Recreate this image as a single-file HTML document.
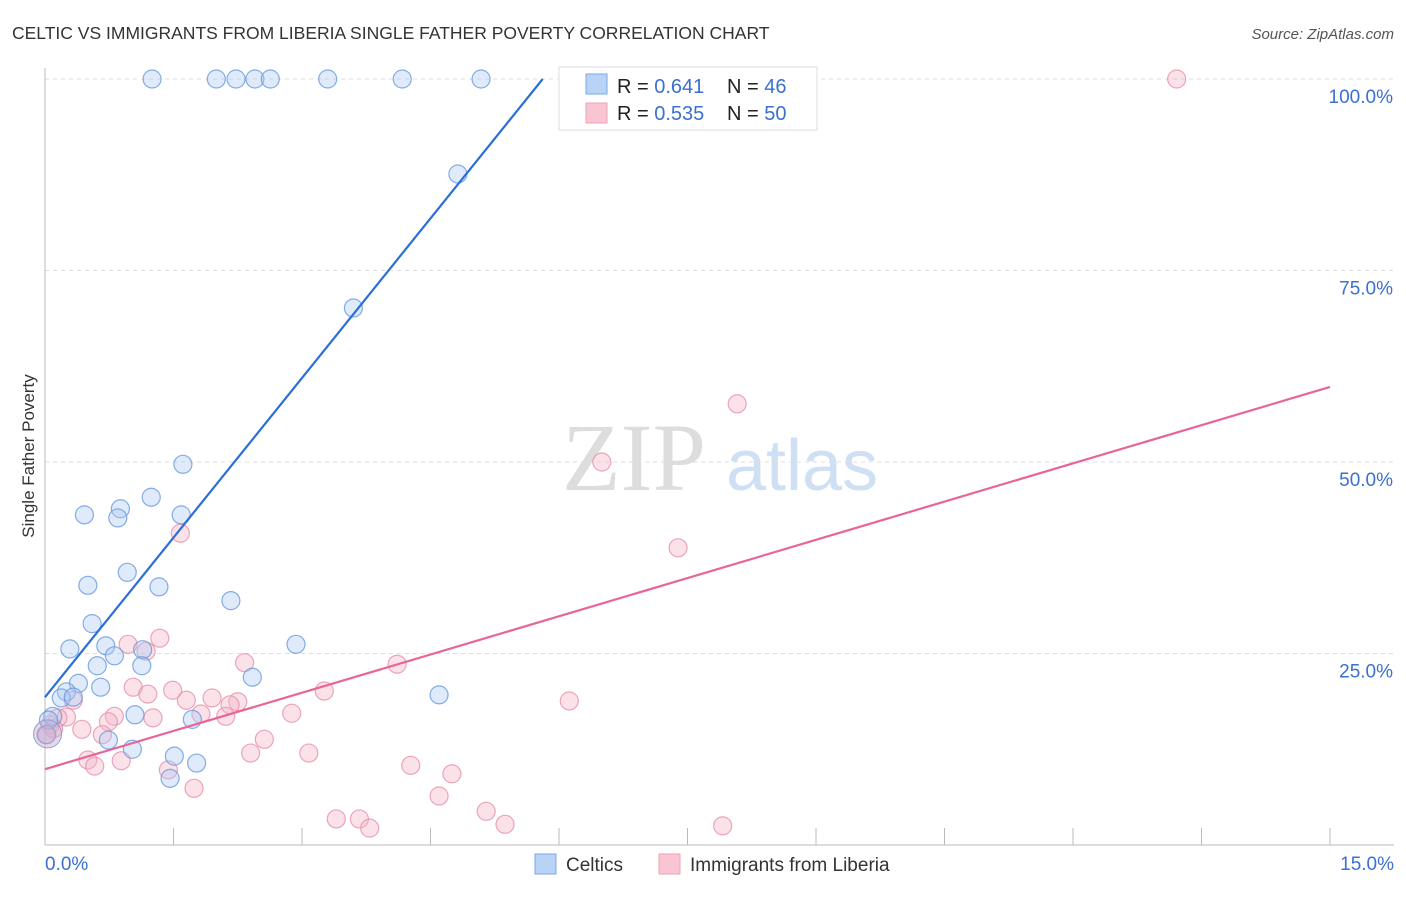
<!DOCTYPE html>
<html><head><meta charset="utf-8"><style>
body{margin:0;background:#fff;font-family:"Liberation Sans",sans-serif}
</style></head><body>
<svg id="chart" width="1406" height="892" xmlns="http://www.w3.org/2000/svg" font-family="Liberation Sans, sans-serif">
<text x="12" y="39" font-size="17.5" fill="#333">CELTIC VS IMMIGRANTS FROM LIBERIA SINGLE FATHER POVERTY CORRELATION CHART</text>
<text x="1394" y="39" font-size="15" fill="#555" font-style="italic" text-anchor="end">Source: ZipAtlas.com</text>
<text transform="translate(34,456) rotate(-90)" font-size="17" fill="#333" text-anchor="middle">Single Father Poverty</text>
<g>
<text x="634" y="490" font-size="96" fill="#ddd" font-family="Liberation Serif, serif" text-anchor="middle">ZIP</text>
<text x="802" y="490" font-size="72" fill="#cfe0f4" text-anchor="middle">atlas</text>
</g>
<g id="grid"></g><g id="axes"></g><g id="marks"></g><g id="lines"></g>
<g>
<rect x="559" y="67" width="258" height="63" fill="#fff" fill-opacity="0.92" stroke="#ddd"/>
<rect x="586" y="74" width="21" height="20" fill="#b8d3f5" stroke="#7aa8e6"/>
<rect x="586" y="103" width="21" height="20" fill="#f9c5d3" stroke="#eea2b8"/>
<text x="617" y="93" font-size="20" fill="#222">R = <tspan fill="#3a70d0">0.641</tspan></text>
<text x="727" y="93" font-size="20" fill="#222">N = <tspan fill="#3a70d0">46</tspan></text>
<text x="617" y="120" font-size="20" fill="#222">R = <tspan fill="#3a70d0">0.535</tspan></text>
<text x="727" y="120" font-size="20" fill="#222">N = <tspan fill="#3a70d0">50</tspan></text>
</g>
<g>
<rect x="535" y="854" width="21" height="20" fill="#b8d3f5" stroke="#7aa8e6"/>
<text x="566" y="871" font-size="19" fill="#333">Celtics</text>
<rect x="659" y="854" width="21" height="20" fill="#f9c5d3" stroke="#eea2b8"/>
<text x="690" y="871" font-size="19" fill="#333">Immigrants from Liberia</text>
</g>
</svg>
<script>
const xTicks=[0,1.5,3,4.5,6,7.5,9,10.5,12,13.5,15];
const yTicks=[25,50,75,100];
const yTickLabels=["25.0%","50.0%","75.0%","100.0%"];
const xEndLabels=["0.0%","15.0%"];
const celticsX=[1.25,2.00,2.23,2.45,2.63,3.30,4.17,5.09,6.47,4.82,3.60,1.61,1.24,0.46,0.88,0.85,1.59,0.96,1.33,0.50,2.17,0.55,0.29,0.71,1.14,0.81,2.93,0.61,1.13,2.42,0.39,0.25,0.65,0.19,0.33,4.60,1.05,1.72,0.09,0.04,0.74,1.02,1.51,1.77,1.46,0.02];
const celticsY=[100,100,100,100,100,100,100,100,100,87.6,70.1,49.7,45.4,43.1,43.9,42.7,43.1,35.6,33.7,33.9,31.9,28.9,25.6,26.0,25.5,24.7,26.2,23.4,23.4,21.9,21.1,20.0,20.6,19.2,19.3,19.6,17.0,16.4,16.8,16.3,13.7,12.5,11.6,10.7,8.7,14.4];
const liberiaX=[13.21,8.08,6.50,7.39,1.58,1.34,0.97,1.18,2.33,4.11,1.03,1.20,1.49,3.26,1.95,1.65,2.25,2.16,6.12,2.88,1.82,2.11,0.81,1.26,0.74,0.25,0.15,0.33,0.43,0.67,2.56,2.40,3.08,0.50,0.58,0.89,1.44,4.27,4.75,1.74,4.60,5.15,3.40,3.67,3.79,5.37,7.91,0.06,0.01,0.10];
const liberiaY=[100,57.6,50.0,38.8,40.7,27.0,26.2,25.3,23.8,23.6,20.6,19.7,20.2,20.1,19.2,18.9,18.7,18.3,18.8,17.2,17.1,16.8,16.8,16.6,16.1,16.7,16.6,18.9,15.1,14.4,13.8,12.0,12.0,11.1,10.3,11.0,9.8,10.4,9.3,7.4,6.4,4.4,3.4,3.4,2.2,2.7,2.5,15.7,14.4,15.2];
const celticsTrend=[0,19.3,5.81,100];
const liberiaTrend=[0,9.9,15,59.8];
const NS="http://www.w3.org/2000/svg";
const X=v=>45+v/15*1285, Y=v=>845-v*7.66;
function mk(tag,attrs,parent){const e=document.createElementNS(NS,tag);for(const k in attrs)e.setAttribute(k,attrs[k]);parent.appendChild(e);return e;}
const grid=document.getElementById('grid'),axes=document.getElementById('axes'),marks=document.getElementById('marks'),lines=document.getElementById('lines');
yTicks.forEach((t,i)=>{
 const l=mk('line',{x1:45,x2:1394,y1:Y(t),y2:Y(t),stroke:'#ddd','stroke-dasharray':'4,4'},grid);
 
 
 const tx=mk('text',{x:1393,y:Y(t)+24,'font-size':19,fill:'#3a70d0','text-anchor':'end'},axes);
 tx.textContent=yTickLabels[i];
 
 
});
const ax=mk('line',{x1:45,x2:1394,y1:845,y2:845,stroke:'#bbb'},axes);


const ay=mk('line',{x1:45,x2:45,y1:68,y2:845,stroke:'#bbb'},axes);


xTicks.forEach(t=>{
 const l=mk('line',{x1:X(t),x2:X(t),y1:828,y2:845,stroke:'#bbb'},axes);
 
 
});
[[0,'start',45],[15,'end',1394]].forEach((a,i)=>{
 const tx=mk('text',{x:a[2],y:870,'font-size':19,fill:'#3a70d0','text-anchor':a[1]},axes);
 tx.textContent=xEndLabels[i];
 
 
});
function pts(xs,ys,fill,stroke,name){xs.forEach((x,i)=>{
 const c=mk('circle',{cx:X(x),cy:Y(ys[i]),r:9,fill:fill,'fill-opacity':0.4,stroke:stroke,'stroke-opacity':0.75,'stroke-width':1.2},marks);
 
 
});}
pts(liberiaX,liberiaY,'#f6b6c8','#e58aa6','liberia-point');
pts(celticsX,celticsY,'#aecbf2','#5f93dc','celtics-point');
const big1=mk('circle',{cx:X(0.03),cy:Y(14.5),r:14,fill:'#c9a8cc','fill-opacity':0.45,stroke:'#8aa4dc'},marks);


const l1=mk('line',{x1:X(celticsTrend[0]),y1:Y(celticsTrend[1]),x2:X(celticsTrend[2]),y2:Y(celticsTrend[3]),stroke:'#2a6fd6','stroke-width':2.2},lines);


const l2=mk('line',{x1:X(liberiaTrend[0]),y1:Y(liberiaTrend[1]),x2:X(liberiaTrend[2]),y2:Y(liberiaTrend[3]),stroke:'#e8659a','stroke-width':2.2},lines);


</script>
</body></html>
